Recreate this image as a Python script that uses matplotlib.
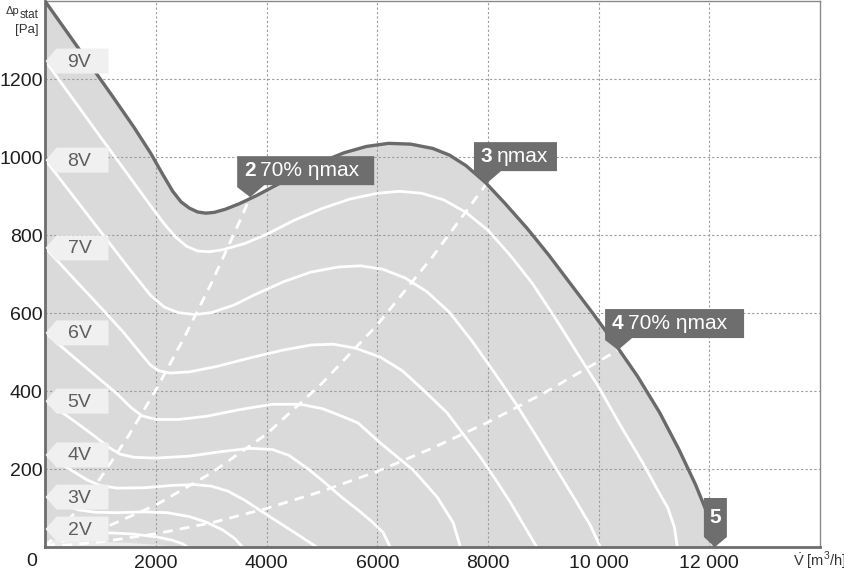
import matplotlib.pyplot as plt
from matplotlib.patches import Polygon
from matplotlib.transforms import ScaledTranslation

plt.rcParams['font.family'] = ['Liberation Sans', 'DejaVu Sans']
plt.rcParams['mathtext.fontset'] = 'custom'
plt.rcParams['mathtext.rm'] = 'Liberation Sans'

# --- data (flow m3/h, pressure Pa) ---
outer_x = [0, 400, 800, 1200, 1600, 1900, 2100, 2300, 2450, 2600, 2750, 2900, 3050, 3250, 3500,
           3800, 4200, 4600, 5000, 5400, 5800, 6200, 6600, 7000, 7300, 7600, 7950, 8300, 8700,
           9100, 9500, 9900, 10300, 10700, 11100, 11450, 11750, 11960, 12100]
outer_y = [1398, 1318, 1238, 1158, 1076, 1010, 960, 912, 885, 869, 859, 856, 858, 866, 880,
           900, 930, 960, 988, 1011, 1027, 1035, 1033, 1022, 1005, 978, 935, 882, 818,
           748, 673, 598, 520, 438, 345, 250, 160, 87, 0]

v9_x = [0, 500, 1000, 1500, 1900, 2150, 2350, 2550, 2750, 2950, 3200, 3600, 4000, 4500, 5000,
        5500, 6000, 6400, 6800, 7200, 7600, 8000, 8400, 8800, 9200, 9600, 10000, 10400, 10800,
        11050, 11250, 11370, 11420]
v9_y = [1246, 1148, 1050, 953, 875, 828, 795, 771, 759, 757, 762, 778, 802, 838, 868,
        892, 907, 912, 907, 890, 858, 812, 748, 676, 590, 500, 410, 310, 215,
        150, 100, 50, 0]

v8_x = [0, 500, 1000, 1500, 1900, 2150, 2400, 2700, 3000, 3400, 3800, 4300, 4800, 5300, 5700,
        6100, 6500, 6900, 7300, 7700, 8100, 8500, 8900, 9300, 9600, 9850, 10030]
v8_y = [992, 900, 808, 716, 645, 615, 601, 596, 601, 620, 648, 680, 705, 718, 721,
        712, 690, 654, 602, 530, 450, 368, 278, 185, 115, 55, 0]

v7_x = [0, 500, 1000, 1400, 1700, 1900, 2050, 2250, 2600, 3100, 3700, 4300, 4800, 5200, 5600,
        6050, 6450, 6850, 7260, 7600, 7860, 8150, 8400, 8650, 8880]
v7_y = [767, 690, 614, 552, 500, 466, 452, 446, 449, 463, 485, 505, 518, 520, 510,
        487, 452, 400, 344, 280, 231, 170, 115, 55, 0]

v6_x = [0, 500, 1000, 1300, 1550, 1750, 2000, 2400, 2900, 3500, 4100, 4600, 5000, 5400, 5650,
        6050, 6650, 7080, 7370, 7500]
v6_y = [549, 488, 428, 392, 357, 336, 327, 327, 335, 352, 366, 366, 355, 333, 318,
        267, 197, 128, 62, 0]

v5_x = [0, 500, 900, 1150, 1350, 1600, 2000, 2600, 3200, 3700, 4100, 4400, 4750, 5050, 5350,
        5650, 5900, 6100, 6230]
v5_y = [374, 325, 283, 255, 238, 230, 228, 233, 245, 253, 250, 235, 200, 165, 128,
        95, 65, 38, 0]

v4_x = [0, 400, 750, 1000, 1300, 1800, 2300, 2700, 3000, 3300, 3600, 3900, 4250, 4600, 4900]
v4_y = [236, 203, 172, 157, 151, 152, 158, 160, 156, 143, 120, 92, 60, 28, 0]

v3_x = [0, 300, 600, 900, 1300, 1800, 2200, 2600, 2900, 3200, 3420, 3560]
v3_y = [128, 110, 95, 89, 88, 90, 88, 78, 64, 44, 22, 0]

v2_x = [0, 300, 700, 1200, 1600, 2000, 2300, 2480, 2560]
v2_y = [46, 40, 37, 36, 33, 26, 17, 8, 0]

v1_x = [0, 800, 1500, 2000, 2480]
v1_y = [18, 16, 12, 7, 0]

volt_labels = ['9V', '8V', '7V', '6V', '5V', '4V', '3V', '2V']
volt_x = [v9_x, v8_x, v7_x, v6_x, v5_x, v4_x, v3_x, v2_x]
volt_y = [v9_y, v8_y, v7_y, v6_y, v5_y, v4_y, v3_y, v2_y]

# system lines (dashed) ending at the marked points
eta2_x = [0, 500, 1000, 1500, 2000, 2500, 3000, 3500, 3700]
eta2_y = [0, 83, 178, 285, 404, 535, 677, 832, 897]
eta3_x = [0, 1000, 2000, 3000, 4000, 5000, 6000, 7000, 7980]
eta3_y = [0, 45, 108, 190, 290, 420, 570, 745, 933]
eta4_x = [0, 1000, 2000, 3000, 4000, 5000, 6000, 7000, 8000, 9000, 10000, 10350]
eta4_y = [0, 13, 34, 62, 99, 143, 194, 254, 320, 394, 476, 505]

point_nums = ['2', '3', '4', '5']
point_texts = ['70% ηmax', 'ηmax', '70% ηmax', '']
point_x = [eta2_x[-1], eta3_x[-1], eta4_x[-1], outer_x[-1]]
point_y = [eta2_y[-1], eta3_y[-1], eta4_y[-1], outer_y[-1]]
point_box_right = [124, 70, 126, 12]   # box right edge, px from the tip

x_ticks = [2000, 4000, 6000, 8000, 10000, 12000]
x_tick_labels = ['2000', '4000', '6000', '8000', '10 000', '12 000']
y_ticks = [200, 400, 600, 800, 1000, 1200]

W, H = 845, 573
fig = plt.figure(figsize=(W / 100, H / 100), dpi=100)
ax = fig.add_axes([45.5 / W, 26 / H, 774.5 / W, 546 / H])
ax.set_xlim(0, 14000)
ax.set_ylim(0, 1400)

# working area
ax.fill_between(outer_x, outer_y, 0, color='#dadada', lw=0, zorder=1)
ax.fill_between(v1_x, v1_y, 0, color='#ebebeb', lw=0, zorder=1.1)

ax.set_axisbelow('line')
ax.grid(True, linestyle=(0, (2, 2)), color='#9c9c9c', lw=0.8)

for xs, ys in zip(volt_x, volt_y):
    ax.plot(xs, ys, color='white', lw=2, solid_joinstyle='round', zorder=2)

for xs, ys in [(eta2_x, eta2_y), (eta3_x, eta3_y), (eta4_x, eta4_y)]:
    ax.plot(xs, ys, color='white', lw=2, linestyle=(0, (3.5, 2.6)), zorder=2.5)

ax.plot(outer_x, outer_y, color='#6a6a6a', lw=2.4, solid_joinstyle='round', zorder=3)


def anchored(x, y):
    # vertices given in inches, pinned to a data point
    return fig.dpi_scale_trans + ScaledTranslation(x, y, ax.transData)


# voltage tags at curve start
for lab, ys in zip(volt_labels, volt_y):
    verts = [(0, 0), (11, 12.5), (63, 12.5), (63, -12.5), (11, -12.5)]
    poly = Polygon([(a / 100, b / 100) for a, b in verts], closed=True,
                   transform=anchored(0, ys[0]), facecolor='#f0f0f0',
                   edgecolor='none', zorder=4, clip_on=False)
    ax.add_patch(poly)
    ax.annotate(lab, xy=(0, ys[0]), xytext=(34, -1), textcoords='offset pixels',
                ha='center', va='center', fontsize=14, color='#5e5e5e', zorder=5)

# operating point callouts
for num, txt, px, py, right in zip(point_nums, point_texts, point_x, point_y, point_box_right):
    if txt:
        left, top, bot, join = -13, 41, 12, 14
        verts = [(left, top), (right, top), (right, bot), (join, bot), (0, 0),
                 (left, bot - 2)]
        cy = (top + bot) / 2
        ax.annotate(num, xy=(px, py), xytext=(left + 7, cy), textcoords='offset pixels',
                    ha='left', va='center', fontsize=15, fontweight='bold',
                    color='white', zorder=6)
        ax.annotate(txt, xy=(px, py), xytext=(left + 23, cy), textcoords='offset pixels',
                    ha='left', va='center', fontsize=15, color='white', zorder=6)
    else:
        left, top, bot = -11, 49, 10
        verts = [(left, top), (right, top), (right, bot), (0, 0), (left, bot)]
        ax.annotate(num, xy=(px, py), xytext=(0.5, (top + bot) / 2),
                    textcoords='offset pixels', ha='center', va='center',
                    fontsize=15, fontweight='bold', color='white', zorder=6)
    poly = Polygon([(a / 100, b / 100) for a, b in verts], closed=True,
                   transform=anchored(px, py), facecolor='#6e6e6e',
                   edgecolor='none', zorder=5, clip_on=False)
    ax.add_patch(poly)

# axes styling
ax.set_xticks(x_ticks)
ax.set_xticklabels(x_tick_labels)
ax.set_yticks(y_ticks)
ax.tick_params(axis='both', length=0, labelsize=14, colors='#1e1e1e')
ax.tick_params(axis='x', pad=6)
ax.tick_params(axis='y', pad=2)
for side in ['left', 'bottom']:
    ax.spines[side].set_color('#6d6d6d')
    ax.spines[side].set_linewidth(2)
for side in ['top', 'right']:
    ax.spines[side].set_color('#8a8a8a')
    ax.spines[side].set_linewidth(1)

fig.text(32 / W, 1 - 562 / H, '0', ha='center', va='center', fontsize=14, color='#1e1e1e')
fig.text(793 / W, 1 - 561 / H, r'$\dot{\mathrm{V}}$ [m$^3$/h]', ha='left', va='center',
         fontsize=10.5, color='#333333')
fig.text(19 / W, 1 - 11 / H, 'Δp', ha='right', va='center', fontsize=8, color='#333333')
fig.text(20 / W, 1 - 15.5 / H, 'stat', ha='left', va='center', fontsize=8.5, color='#333333')
fig.text(39 / W, 1 - 30.5 / H, '[Pa]', ha='right', va='center', fontsize=9.5, color='#333333')

fig.savefig('out.png', dpi=100)
